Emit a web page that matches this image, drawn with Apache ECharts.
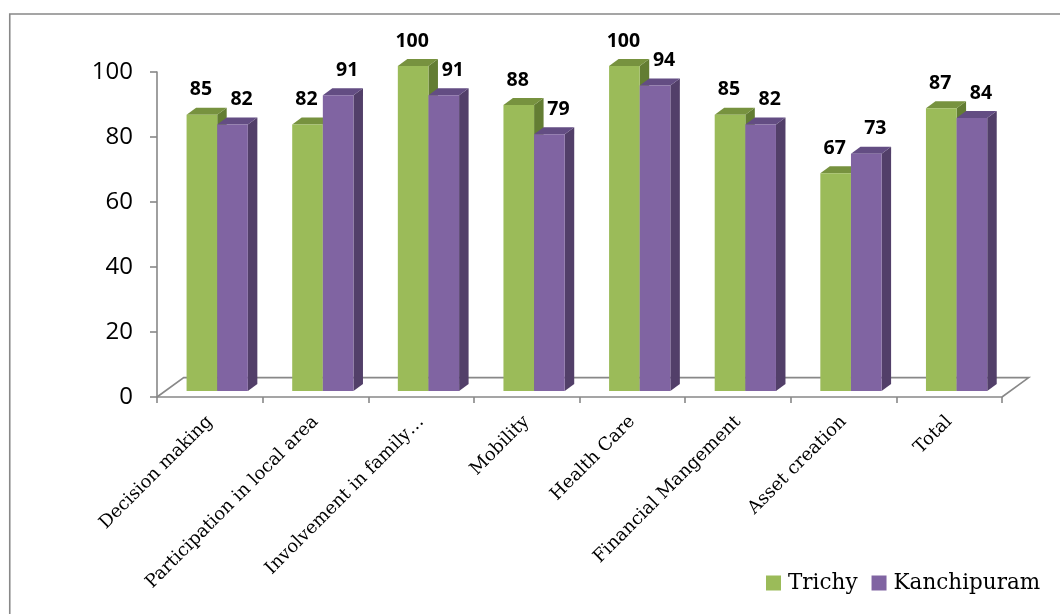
<!DOCTYPE html>
<html>
<head>
<meta charset="utf-8">
<script src="https://cdn.jsdelivr.net/npm/echarts@6/dist/echarts.min.js"></script>
<style>
  html, body { margin: 0; padding: 0; background: #fff; }
  #chart { width: 1060px; height: 614px; }
</style>
</head>
<body>
<div id="chart"></div>
<script>
// Empowerment indicators, share (%) by district
const categories = [
  'Decision making',
  'Participation in local area',
  'Involvement in family…',
  'Mobility',
  'Health Care',
  'Financial Mangement',
  'Asset creation',
  'Total'
];
const trichy = [85, 82, 100, 88, 100, 85, 67, 87];
const kanchipuram = [82, 91, 91, 79, 94, 82, 73, 84];
const seriesNames = ['Trichy', 'Kanchipuram'];

// Oblique projection for the pseudo-3D look
const FLOOR_DX = 26.7, FLOOR_DY = -19.4;     // full depth of the floor plate
const BAR_FRONT_DX = 7.4, BAR_FRONT_DY = -6; // bars stand partway into the floor
const BAR_DX = 9.5, BAR_DY = -7;             // depth of each bar box
const BAR_RATIO = 0.29;                      // bar width as a share of a category band
const AXIS_GREY = '#888888';

const palette = [
  { front: '#9BBB59', top: '#77923F', side: '#637D33', labelDx: -1 },
  { front: '#8064A2', top: '#634D83', side: '#523F69', labelDx: 9 }
];

function barRenderer(seriesIndex) {
  const c = palette[seriesIndex];
  return function (params, api) {
    const idx = api.value(0);
    const val = api.value(1);
    const band = api.size([1, 0])[0];
    const w = band * BAR_RATIO;
    const topPt = api.coord([idx, val]);
    const basePt = api.coord([idx, 0]);
    const x0 = topPt[0] + BAR_FRONT_DX + (seriesIndex === 0 ? -w : 0);
    const x1 = x0 + w;
    const yT = topPt[1] + BAR_FRONT_DY;
    const yB = basePt[1] + BAR_FRONT_DY;
    return {
      type: 'group',
      children: [
        { type: 'polygon',
          shape: { points: [[x1, yT], [x1 + BAR_DX, yT + BAR_DY], [x1 + BAR_DX, yB + BAR_DY], [x1, yB]] },
          style: { fill: c.side } },
        { type: 'polygon',
          shape: { points: [[x0, yT], [x1, yT], [x1 + BAR_DX, yT + BAR_DY], [x0 + BAR_DX, yT + BAR_DY]] },
          style: { fill: c.top } },
        { type: 'rect',
          shape: { x: x0, y: yT, width: w, height: yB - yT },
          style: { fill: c.front } },
        { type: 'text',
          z2: 10,
          style: {
            text: String(val),
            x: (x0 + x1) / 2 + c.labelDx,
            y: yT - 25,
            align: 'center',
            verticalAlign: 'middle',
            font: 'bold 19.5px "Open Sans"',
            fill: '#000'
          } }
      ]
    };
  };
}

// Floor plate outline (the front edge is the category axis line itself)
function floorRenderer(params, api) {
  const band = api.size([1, 0])[0];
  const first = api.coord([0, 0]);
  const last = api.coord([categories.length - 1, 0]);
  const xl = first[0] - band / 2;
  const xr = last[0] + band / 2;
  const y = first[1];
  return {
    type: 'polyline',
    shape: { points: [[xl, y], [xl + FLOOR_DX, y + FLOOR_DY], [xr + FLOOR_DX, y + FLOOR_DY], [xr, y]] },
    style: { fill: null, stroke: AXIS_GREY, lineWidth: 1.6 }
  };
}

const chart = echarts.init(document.getElementById('chart'), null, { renderer: 'canvas' });

chart.setOption({
  backgroundColor: '#ffffff',
  animation: false,
  graphic: [{
    type: 'rect',
    silent: true,
    z: -10,
    shape: { x: 9.75, y: 14, width: 2000, height: 2000 },
    style: { fill: 'none', stroke: AXIS_GREY, lineWidth: 1.6 }
  }],
  grid: { left: 157, top: 72, right: 58, bottom: 217 },
  legend: {
    left: 761,
    top: 566,
    itemWidth: 15,
    itemHeight: 15,
    itemGap: 14,
    icon: 'rect',
    data: seriesNames,
    textStyle: {
      fontFamily: '"DejaVu Serif"',
      fontSize: 21.5,
      color: '#000',
      lineHeight: 24,
      padding: [0, 0, 0, 2]
    }
  },
  xAxis: {
    type: 'category',
    data: categories,
    boundaryGap: true,
    axisLine: { show: true, lineStyle: { color: AXIS_GREY, width: 1.6 } },
    axisTick: { show: true, length: 6, lineStyle: { color: AXIS_GREY, width: 1.6 } },
    axisLabel: {
      interval: 0,
      rotate: 45,
      margin: 22,
      fontFamily: '"DejaVu Serif"',
      fontSize: 18,
      color: '#000'
    },
    splitLine: { show: false }
  },
  yAxis: {
    type: 'value',
    min: 0,
    max: 100,
    interval: 20,
    axisLine: { show: true, lineStyle: { color: AXIS_GREY, width: 1.6 } },
    axisTick: { show: true, length: 7, lineStyle: { color: AXIS_GREY, width: 1.6 } },
    axisLabel: {
      margin: 24,
      fontFamily: '"Open Sans"',
      fontSize: 24,
      color: '#000'
    },
    splitLine: { show: false }
  },
  series: [
    {
      type: 'custom',
      name: 'floor',
      silent: true,
      z: 1,
      renderItem: floorRenderer,
      data: [[0, 0]]
    },
    {
      type: 'custom',
      name: seriesNames[0],
      z: 2,
      itemStyle: { color: palette[0].front },
      renderItem: barRenderer(0),
      encode: { x: 0, y: 1 },
      data: trichy.map((v, i) => [i, v])
    },
    {
      type: 'custom',
      name: seriesNames[1],
      z: 3,
      itemStyle: { color: palette[1].front },
      renderItem: barRenderer(1),
      encode: { x: 0, y: 1 },
      data: kanchipuram.map((v, i) => [i, v])
    }
  ]
});
</script>
</body>
</html>
